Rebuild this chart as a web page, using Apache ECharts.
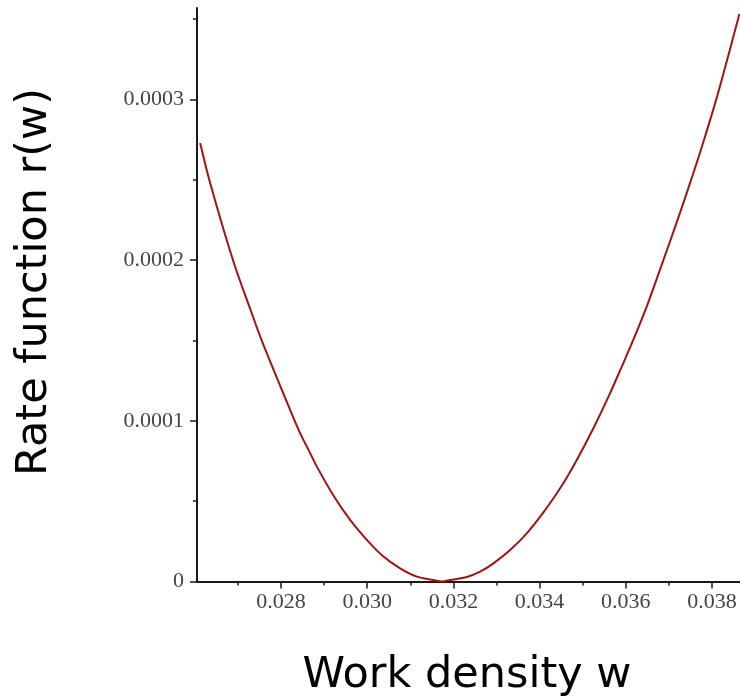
<!DOCTYPE html>
<html>
<head>
<meta charset="utf-8">
<script src="https://cdn.jsdelivr.net/npm/echarts@6/dist/echarts.min.js"></script>
<style>
  html, body { margin: 0; padding: 0; background: #ffffff; }
  #chart { width: 740px; height: 699px; }
</style>
</head>
<body>
<div id="chart"></div>
<script>
// Work density w (x) and rate function r(w) (y)
const wValues = [
  0.026123, 0.026355, 0.026889, 0.027283, 0.027555, 0.028211, 0.028443, 0.028675,
  0.028831, 0.029216, 0.029603, 0.029991, 0.030376, 0.030763, 0.031151, 0.031536,
  0.031738, 0.031923, 0.032311, 0.032619, 0.032928, 0.033316, 0.033703, 0.034088,
  0.034476, 0.034863, 0.035248, 0.035636, 0.035907, 0.036176, 0.036487, 0.036796,
  0.037183, 0.037492, 0.037800, 0.038111, 0.038420, 0.038636
];
const rValues = [
  0.0002730, 0.0002481, 0.0001997, 0.0001698, 0.0001498, 0.0001069, 0.0000924, 0.0000799,
  0.0000715, 0.0000535, 0.0000383, 0.0000259, 0.0000155, 0.0000082, 0.0000030, 0.0000009,
  0.0000000, 0.0000009, 0.0000028, 0.0000061, 0.0000113, 0.0000196, 0.0000300, 0.0000430,
  0.0000580, 0.0000757, 0.0000954, 0.0001173, 0.0001338, 0.0001505, 0.0001713, 0.0001943,
  0.0002237, 0.0002481, 0.0002736, 0.0003012, 0.0003315, 0.0003533
];

// Tick positions
const xMajorTicks = [0.028, 0.030, 0.032, 0.034, 0.036, 0.038];
const xMinorTicks = [0.027, 0.029, 0.031, 0.033, 0.035, 0.037];
const yMajorTicks = [0, 0.0001, 0.0002, 0.0003];
const yMinorTicks = [0.00005, 0.00015, 0.00025, 0.00035];

const xRange = [0.02605, 0.03865];
const yRange = [0, 0.000357];

const axisColor = '#1a1a1a';
const labelStyle = { fontFamily: 'Liberation Serif', fontSize: 22, color: '#444' };

const chart = echarts.init(document.getElementById('chart'), null, { renderer: 'canvas' });

chart.setOption({
  animation: false,
  backgroundColor: '#ffffff',
  grid: { left: 197, right: 0, top: 8, bottom: 117.5, containLabel: false },
  xAxis: [
    {
      type: 'value', min: xRange[0], max: xRange[1], position: 'bottom',
      splitLine: { show: false },
      axisLine: { show: true, onZero: false, lineStyle: { color: axisColor, width: 2 } },
      axisTick: { show: true, length: 7, customValues: xMajorTicks, lineStyle: { color: axisColor, width: 1.5 } },
      axisLabel: {
        show: true, margin: 10, customValues: xMajorTicks,
        formatter: v => v.toFixed(3), ...labelStyle
      }
    },
    {
      type: 'value', min: xRange[0], max: xRange[1], position: 'bottom',
      splitLine: { show: false },
      axisLine: { show: false, onZero: false },
      axisTick: { show: true, length: 4, customValues: xMinorTicks, lineStyle: { color: axisColor, width: 1.5 } },
      axisLabel: { show: false }
    }
  ],
  yAxis: [
    {
      type: 'value', min: yRange[0], max: yRange[1], position: 'left',
      splitLine: { show: false },
      axisLine: { show: true, onZero: false, lineStyle: { color: axisColor, width: 2 } },
      axisTick: { show: true, length: 7, customValues: yMajorTicks, lineStyle: { color: axisColor, width: 1.5 } },
      axisLabel: {
        show: true, margin: 13, customValues: yMajorTicks,
        formatter: v => (v === 0 ? '0' : v.toFixed(4)), ...labelStyle
      }
    },
    {
      type: 'value', min: yRange[0], max: yRange[1], position: 'left',
      splitLine: { show: false },
      axisLine: { show: false, onZero: false },
      axisTick: { show: true, length: 4, customValues: yMinorTicks, lineStyle: { color: axisColor, width: 1.5 } },
      axisLabel: { show: false }
    }
  ],
  series: [
    {
      type: 'line',
      xAxisIndex: 0, yAxisIndex: 0,
      data: wValues.map((w, i) => [w, rValues[i]]),
      smooth: 0.3,
      showSymbol: false,
      clip: false,
      lineStyle: { color: '#a01414', width: 2 }
    }
  ],
  graphic: [
    {
      type: 'text', x: 467, y: 676,
      style: {
        text: 'Work density w', fontFamily: 'DejaVu Sans', fontSize: 43,
        fill: '#000', textAlign: 'center', textVerticalAlign: 'middle'
      }
    },
    {
      type: 'text', x: 35, y: 282, rotation: Math.PI / 2,
      style: {
        text: 'Rate function r(w)', fontFamily: 'DejaVu Sans', fontSize: 43,
        fill: '#000', textAlign: 'center', textVerticalAlign: 'middle'
      }
    }
  ]
});
</script>
</body>
</html>
